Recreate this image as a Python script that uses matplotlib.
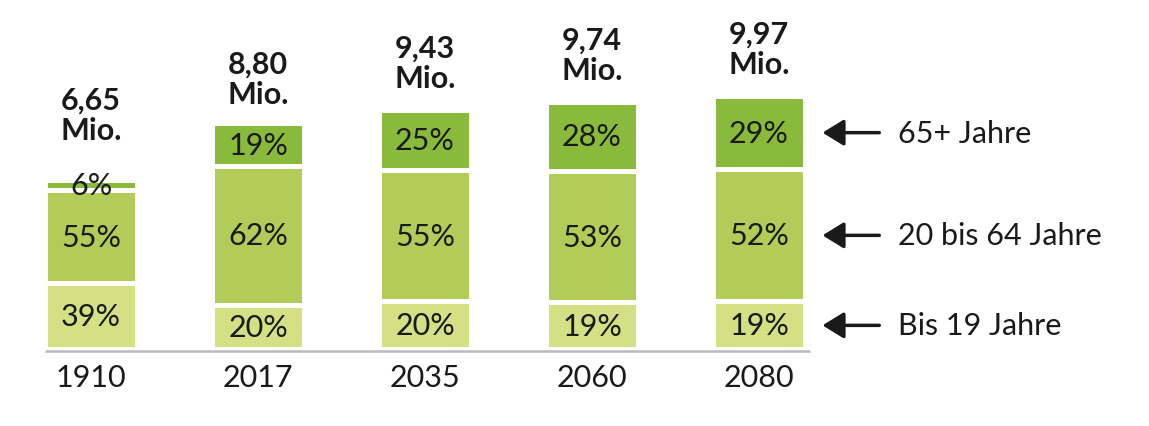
import numpy as np
import matplotlib
matplotlib.use("Agg")
import matplotlib.pyplot as plt

years = ["1910", "2017", "2035", "2060", "2080"]
totals = [6.65, 8.80, 9.43, 9.74, 9.97]
totals_txt = ["6,65", "8,80", "9,43", "9,74", "9,97"]
share_young = [39, 20, 20, 19, 19]
share_work = [55, 62, 55, 53, 52]
share_old = [6, 19, 25, 28, 29]
groups = ["Bis 19 Jahre", "20 bis 64 Jahre", "65+ Jahre"]

plt.rcParams["font.family"] = ["Lato", "DejaVu Sans"]

colors = ["#d3e084", "#b2cc5a", "#8aba3c"]
FS = 22

fig = plt.figure(figsize=(11.49, 4.27), dpi=100)
ax = fig.add_axes([0, 0, 1, 1])
ax.set_xlim(-0.545, 6.335)
ax.set_ylim(-3.01, 13.78)
ax.axis("off")

x = np.arange(len(years))
totals = np.array(totals)
shares = [np.array(share_young), np.array(share_work), np.array(share_old)]
bottom = np.zeros(len(years))
centers = []
for s, c in zip(shares, colors):
    h = totals * s / 100
    ax.bar(x, h, bottom=bottom, width=0.55, color=c, edgecolor="white", linewidth=3.6)
    for xi, b, hi, si in zip(x, bottom, h, s):
        ax.text(xi, b + hi / 2, f"{si}%", ha="center", va="center", fontsize=FS, color="#1a1a1a")
    centers.append(bottom[-1] + h[-1] / 2)
    bottom = bottom + h

# totals above bars
for xi, t, txt, so in zip(x, totals, totals_txt, share_old):
    off = 26 if so < 10 else 13
    ax.annotate(f"{txt}\nMio.", (xi, t), xytext=(0, off), textcoords="offset points",
                ha="center", va="bottom", fontsize=FS, fontweight="bold",
                linespacing=1.1, color="#1a1a1a")

# baseline
ax.hlines(-0.07, -0.275, 4.305, color="#bbbbbb", lw=1.8, zorder=3)

for xi, y in zip(x, years):
    ax.annotate(y, (xi, 0), xytext=(0, -10), textcoords="offset points",
                ha="center", va="top", fontsize=FS, color="#1a1a1a")

# legend arrows
for cy, g in zip(centers, groups):
    ax.annotate("", xy=(4.38, cy), xytext=(4.72, cy),
                arrowprops=dict(arrowstyle="-|>,head_length=0.65,head_width=0.4",
                                mutation_scale=20, color="#1a1a1a", lw=2.5,
                                shrinkA=0, shrinkB=0))
    ax.text(4.83, cy, g, ha="left", va="center", fontsize=FS, color="#1a1a1a")

fig.savefig("out.png", dpi=100)
